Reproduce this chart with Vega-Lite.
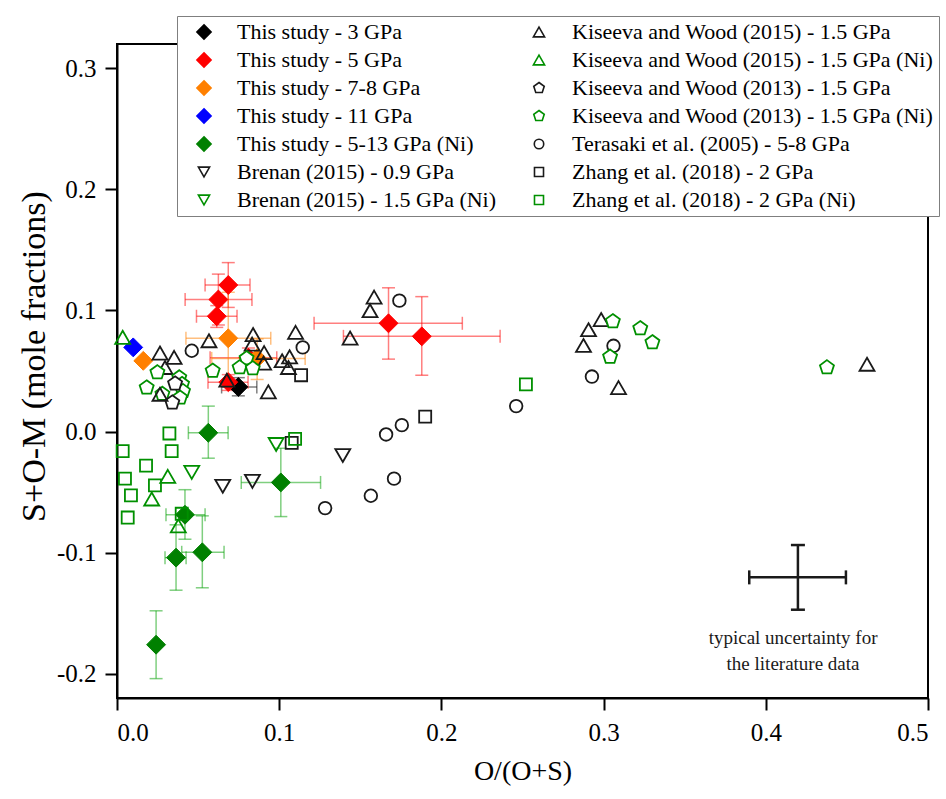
{
  "$schema": "https://vega.github.io/schema/vega-lite/v6.json",
  "width": 811,
  "height": 654,
  "autosize": {"type": "none"},
  "padding": {"left": 117, "top": 44, "right": 18, "bottom": 101},
  "background": "white",
  "resolve": {
    "axis": {"x": "independent", "y": "independent"},
    "legend": {"shape": "independent", "fill": "independent", "stroke": "independent", "color": "independent"}
  },
  "config": {
    "font": "Liberation Serif",
    "view": {"stroke": "black", "strokeWidth": 2},
    "axis": {
      "grid": false,
      "domainColor": "black",
      "domainWidth": 2,
      "tickColor": "black",
      "tickWidth": 2,
      "tickSize": 12,
      "labelFont": "Liberation Serif",
      "labelFontSize": 25,
      "labelColor": "black",
      "labelPadding": 9,
      "titleFont": "Liberation Serif",
      "titleFontSize": 28,
      "titleFontWeight": "normal",
      "titleColor": "black"
    }
  },
  "datasets": {
    "study": [
      {"series": "This study - 3 GPa", "x": 0.0748, "y": 0.0368, "xlo": 0.0645, "xhi": 0.0862, "ylo": 0.0295, "yhi": 0.0445},
      {"series": "This study - 5 GPa", "x": 0.0686, "y": 0.121, "xlo": 0.0543, "xhi": 0.082, "ylo": 0.1025, "yhi": 0.1395},
      {"series": "This study - 5 GPa", "x": 0.0625, "y": 0.109, "xlo": 0.042, "xhi": 0.0832, "ylo": 0.088, "yhi": 0.13},
      {"series": "This study - 5 GPa", "x": 0.0615, "y": 0.0952, "xlo": 0.049, "xhi": 0.074, "ylo": 0.086, "yhi": 0.104},
      {"series": "This study - 5 GPa", "x": 0.081, "y": 0.061, "xlo": 0.0574, "xhi": 0.0985, "ylo": 0.053, "yhi": 0.069},
      {"series": "This study - 5 GPa", "x": 0.0686, "y": 0.0408, "xlo": 0.0561, "xhi": 0.0808, "ylo": 0.034, "yhi": 0.047},
      {"series": "This study - 5 GPa", "x": 0.1674, "y": 0.0894, "xlo": 0.1215, "xhi": 0.2129, "ylo": 0.0598, "yhi": 0.1187},
      {"series": "This study - 5 GPa", "x": 0.1879, "y": 0.0786, "xlo": 0.1396, "xhi": 0.2362, "ylo": 0.0465, "yhi": 0.1114},
      {"series": "This study - 7-8 GPa", "x": 0.0686, "y": 0.077, "xlo": 0.0425, "xhi": 0.0948, "ylo": 0.04, "yhi": 0.115},
      {"series": "This study - 7-8 GPa", "x": 0.0864, "y": 0.0604, "xlo": 0.0584, "xhi": 0.116, "ylo": 0.043, "yhi": 0.0765},
      {"series": "This study - 7-8 GPa", "x": 0.0162, "y": 0.0584},
      {"series": "This study - 11 GPa", "x": 0.01, "y": 0.0695},
      {"series": "This study - 5-13 GPa (Ni)", "x": 0.101, "y": -0.042, "xlo": 0.0766, "xhi": 0.1255, "ylo": -0.0702, "yhi": -0.0138},
      {"series": "This study - 5-13 GPa (Ni)", "x": 0.0419, "y": -0.0687, "xlo": 0.0302, "xhi": 0.0543, "ylo": -0.0889, "yhi": -0.048},
      {"series": "This study - 5-13 GPa (Ni)", "x": 0.0364, "y": -0.1041, "xlo": 0.0296, "xhi": 0.0426, "ylo": -0.131, "yhi": -0.077},
      {"series": "This study - 5-13 GPa (Ni)", "x": 0.0526, "y": -0.0997, "xlo": 0.0399, "xhi": 0.066, "ylo": -0.129, "yhi": -0.0696},
      {"series": "This study - 5-13 GPa (Ni)", "x": 0.0241, "y": -0.176, "ylo": -0.204, "yhi": -0.148},
      {"series": "This study - 5-13 GPa (Ni)", "x": 0.0563, "y": -0.001, "xlo": 0.044, "xhi": 0.0685, "ylo": -0.022, "yhi": 0.021}
    ],
    "lit": [
      {"series": "Kiseeva and Wood (2015) - 1.5 GPa", "x": 0.0265, "y": 0.0648},
      {"series": "Kiseeva and Wood (2015) - 1.5 GPa", "x": 0.0352, "y": 0.0612},
      {"series": "Kiseeva and Wood (2015) - 1.5 GPa", "x": 0.0296, "y": 0.0529},
      {"series": "Kiseeva and Wood (2015) - 1.5 GPa", "x": 0.0567, "y": 0.075},
      {"series": "Kiseeva and Wood (2015) - 1.5 GPa", "x": 0.0839, "y": 0.0801},
      {"series": "Kiseeva and Wood (2015) - 1.5 GPa", "x": 0.0833, "y": 0.0722},
      {"series": "Kiseeva and Wood (2015) - 1.5 GPa", "x": 0.0907, "y": 0.0652},
      {"series": "Kiseeva and Wood (2015) - 1.5 GPa", "x": 0.0904, "y": 0.0565},
      {"series": "Kiseeva and Wood (2015) - 1.5 GPa", "x": 0.0933, "y": 0.0328},
      {"series": "Kiseeva and Wood (2015) - 1.5 GPa", "x": 0.1101, "y": 0.0819},
      {"series": "Kiseeva and Wood (2015) - 1.5 GPa", "x": 0.1018, "y": 0.0585},
      {"series": "Kiseeva and Wood (2015) - 1.5 GPa", "x": 0.1064, "y": 0.0617},
      {"series": "Kiseeva and Wood (2015) - 1.5 GPa", "x": 0.1057, "y": 0.0529},
      {"series": "Kiseeva and Wood (2015) - 1.5 GPa", "x": 0.0677, "y": 0.0424},
      {"series": "Kiseeva and Wood (2015) - 1.5 GPa", "x": 0.1585, "y": 0.111},
      {"series": "Kiseeva and Wood (2015) - 1.5 GPa", "x": 0.156, "y": 0.0998},
      {"series": "Kiseeva and Wood (2015) - 1.5 GPa", "x": 0.1437, "y": 0.0772},
      {"series": "Kiseeva and Wood (2015) - 1.5 GPa", "x": 0.2985, "y": 0.0925},
      {"series": "Kiseeva and Wood (2015) - 1.5 GPa", "x": 0.2907, "y": 0.0841},
      {"series": "Kiseeva and Wood (2015) - 1.5 GPa", "x": 0.2876, "y": 0.0711},
      {"series": "Kiseeva and Wood (2015) - 1.5 GPa", "x": 0.3092, "y": 0.0363},
      {"series": "Kiseeva and Wood (2015) - 1.5 GPa", "x": 0.4624, "y": 0.0556},
      {"series": "Kiseeva and Wood (2015) - 1.5 GPa (Ni)", "x": 0.0035, "y": 0.0778},
      {"series": "Kiseeva and Wood (2015) - 1.5 GPa (Ni)", "x": 0.0313, "y": -0.037},
      {"series": "Kiseeva and Wood (2015) - 1.5 GPa (Ni)", "x": 0.0214, "y": -0.0557},
      {"series": "Kiseeva and Wood (2015) - 1.5 GPa (Ni)", "x": 0.0378, "y": -0.0779},
      {"series": "Terasaki et al. (2005) - 5-8 GPa", "x": 0.0461, "y": 0.0667},
      {"series": "Terasaki et al. (2005) - 5-8 GPa", "x": 0.1145, "y": 0.0695},
      {"series": "Terasaki et al. (2005) - 5-8 GPa", "x": 0.1741, "y": 0.1081},
      {"series": "Terasaki et al. (2005) - 5-8 GPa", "x": 0.3061, "y": 0.0708},
      {"series": "Terasaki et al. (2005) - 5-8 GPa", "x": 0.2928, "y": 0.0454},
      {"series": "Terasaki et al. (2005) - 5-8 GPa", "x": 0.2461, "y": 0.021},
      {"series": "Terasaki et al. (2005) - 5-8 GPa", "x": 0.1756, "y": 0.0053},
      {"series": "Terasaki et al. (2005) - 5-8 GPa", "x": 0.1659, "y": -0.0024},
      {"series": "Terasaki et al. (2005) - 5-8 GPa", "x": 0.1708, "y": -0.0389},
      {"series": "Terasaki et al. (2005) - 5-8 GPa", "x": 0.1565, "y": -0.053},
      {"series": "Terasaki et al. (2005) - 5-8 GPa", "x": 0.1283, "y": -0.0632},
      {"series": "Zhang et al. (2018) - 2 GPa", "x": 0.1135, "y": 0.0465},
      {"series": "Zhang et al. (2018) - 2 GPa", "x": 0.19, "y": 0.0123},
      {"series": "Zhang et al. (2018) - 2 GPa", "x": 0.1077, "y": -0.0093},
      {"series": "Zhang et al. (2018) - 2 GPa (Ni)", "x": 0.0323, "y": -0.0016},
      {"series": "Zhang et al. (2018) - 2 GPa (Ni)", "x": 0.0035, "y": -0.0162},
      {"series": "Zhang et al. (2018) - 2 GPa (Ni)", "x": 0.0337, "y": -0.0162},
      {"series": "Zhang et al. (2018) - 2 GPa (Ni)", "x": 0.0179, "y": -0.0281},
      {"series": "Zhang et al. (2018) - 2 GPa (Ni)", "x": 0.1098, "y": -0.006},
      {"series": "Zhang et al. (2018) - 2 GPa (Ni)", "x": 0.0049, "y": -0.0389},
      {"series": "Zhang et al. (2018) - 2 GPa (Ni)", "x": 0.0234, "y": -0.0444},
      {"series": "Zhang et al. (2018) - 2 GPa (Ni)", "x": 0.0086, "y": -0.0527},
      {"series": "Zhang et al. (2018) - 2 GPa (Ni)", "x": 0.0066, "y": -0.071},
      {"series": "Zhang et al. (2018) - 2 GPa (Ni)", "x": 0.0399, "y": -0.0679},
      {"series": "Zhang et al. (2018) - 2 GPa (Ni)", "x": 0.2521, "y": 0.039},
      {"series": "Brenan (2015) - 0.9 GPa", "x": 0.0652, "y": -0.0452},
      {"series": "Brenan (2015) - 0.9 GPa", "x": 0.0835, "y": -0.0411},
      {"series": "Brenan (2015) - 0.9 GPa", "x": 0.1392, "y": -0.0198},
      {"series": "Brenan (2015) - 1.5 GPa (Ni)", "x": 0.0981, "y": -0.0107},
      {"series": "Brenan (2015) - 1.5 GPa (Ni)", "x": 0.0461, "y": -0.0337},
      {"series": "Kiseeva and Wood (2013) - 1.5 GPa (Ni)", "x": 0.0249, "y": 0.0488},
      {"series": "Kiseeva and Wood (2013) - 1.5 GPa (Ni)", "x": 0.0183, "y": 0.0363},
      {"series": "Kiseeva and Wood (2013) - 1.5 GPa (Ni)", "x": 0.0384, "y": 0.0446},
      {"series": "Kiseeva and Wood (2013) - 1.5 GPa (Ni)", "x": 0.0401, "y": 0.0391},
      {"series": "Kiseeva and Wood (2013) - 1.5 GPa (Ni)", "x": 0.0407, "y": 0.0333},
      {"series": "Kiseeva and Wood (2013) - 1.5 GPa (Ni)", "x": 0.0389, "y": 0.0279},
      {"series": "Kiseeva and Wood (2013) - 1.5 GPa (Ni)", "x": 0.028, "y": 0.031},
      {"series": "Kiseeva and Wood (2013) - 1.5 GPa (Ni)", "x": 0.059, "y": 0.0501},
      {"series": "Kiseeva and Wood (2013) - 1.5 GPa (Ni)", "x": 0.0799, "y": 0.0604},
      {"series": "Kiseeva and Wood (2013) - 1.5 GPa (Ni)", "x": 0.0756, "y": 0.0529},
      {"series": "Kiseeva and Wood (2013) - 1.5 GPa (Ni)", "x": 0.0837, "y": 0.0521},
      {"series": "Kiseeva and Wood (2013) - 1.5 GPa (Ni)", "x": 0.3057, "y": 0.091},
      {"series": "Kiseeva and Wood (2013) - 1.5 GPa (Ni)", "x": 0.3226, "y": 0.0852},
      {"series": "Kiseeva and Wood (2013) - 1.5 GPa (Ni)", "x": 0.3301, "y": 0.0736},
      {"series": "Kiseeva and Wood (2013) - 1.5 GPa (Ni)", "x": 0.304, "y": 0.0617},
      {"series": "Kiseeva and Wood (2013) - 1.5 GPa (Ni)", "x": 0.4377, "y": 0.0529},
      {"series": "Kiseeva and Wood (2013) - 1.5 GPa", "x": 0.0358, "y": 0.0396},
      {"series": "Kiseeva and Wood (2013) - 1.5 GPa", "x": 0.0341, "y": 0.0239},
      {"series": "Kiseeva and Wood (2015) - 1.5 GPa", "x": 0.0265, "y": 0.0308}
    ],
    "typical": [
      {"x": 0.4198, "y": -0.1204, "xlo": 0.3898, "xhi": 0.4494, "ylo": -0.1471, "yhi": -0.0937}
    ],
    "note": [
      {"x": 0.4168, "y": -0.1707, "text": "typical uncertainty for"},
      {"x": 0.4168, "y": -0.1923, "text": "the literature data"}
    ]
  },
  "layer": [
    {
      "data": {"name": "study"},
      "transform": [{"filter": "isValid(datum.xlo)"}],
      "mark": {"type": "rule", "strokeWidth": 1.5, "opacity": 0.5},
      "encoding": {
        "x": {"field": "xlo", "type": "quantitative", "scale": {"domain": [0, 0.5], "nice": false, "zero": false},
          "axis": {"title": "O/(O+S)", "values": [0, 0.1, 0.2, 0.3, 0.4, 0.5], "format": ".1f", "labelPadding": 10, "titlePadding": 12}},
        "x2": {"field": "xhi"},
        "y": {"field": "y", "type": "quantitative", "scale": {"domain": [-0.22, 0.32], "nice": false, "zero": false},
          "axis": {"title": "S+O-M (mole fractions)", "titleFontSize": 34, "titleY": 312, "values": [-0.2, -0.1, 0, 0.1, 0.2, 0.3],
            "labelExpr": "datum.value < 0 ? '-' + format(-datum.value, '.1f') : format(datum.value, '.1f')", "titlePadding": 5}},
        "color": {"field": "series", "type": "nominal", "legend": null,
          "scale": {"domain": ["This study - 3 GPa", "This study - 5 GPa", "This study - 7-8 GPa", "This study - 11 GPa", "This study - 5-13 GPa (Ni)"],
            "range": ["#000000", "#ff0000", "#ff8000", "#0000ff", "#00a000"]}}
      }
    },
    {
      "data": {"name": "study"},
      "transform": [{"filter": "isValid(datum.xlo)"}, {"fold": ["xlo", "xhi"], "as": ["end", "xe"]}],
      "mark": {"type": "tick", "orient": "vertical", "size": 13, "thickness": 1.5, "opacity": 0.5},
      "encoding": {
        "x": {"field": "xe", "type": "quantitative", "scale": {"domain": [0, 0.5], "nice": false, "zero": false}, "axis": null},
        "y": {"field": "y", "type": "quantitative", "scale": {"domain": [-0.22, 0.32], "nice": false, "zero": false}, "axis": null},
        "color": {"field": "series", "type": "nominal", "legend": null}
      }
    },
    {
      "data": {"name": "study"},
      "transform": [{"filter": "isValid(datum.ylo)"}],
      "mark": {"type": "rule", "strokeWidth": 1.5, "opacity": 0.5},
      "encoding": {
        "x": {"field": "x", "type": "quantitative", "scale": {"domain": [0, 0.5], "nice": false, "zero": false}, "axis": null},
        "y": {"field": "ylo", "type": "quantitative", "scale": {"domain": [-0.22, 0.32], "nice": false, "zero": false}, "axis": null},
        "y2": {"field": "yhi"},
        "color": {"field": "series", "type": "nominal", "legend": null}
      }
    },
    {
      "data": {"name": "study"},
      "transform": [{"filter": "isValid(datum.ylo)"}, {"fold": ["ylo", "yhi"], "as": ["end", "ye"]}],
      "mark": {"type": "tick", "orient": "horizontal", "size": 13, "thickness": 1.5, "opacity": 0.5},
      "encoding": {
        "x": {"field": "x", "type": "quantitative", "scale": {"domain": [0, 0.5], "nice": false, "zero": false}, "axis": null},
        "y": {"field": "ye", "type": "quantitative", "scale": {"domain": [-0.22, 0.32], "nice": false, "zero": false}, "axis": null},
        "color": {"field": "series", "type": "nominal", "legend": null}
      }
    },
    {
      "data": {"name": "typical"},
      "mark": {"type": "rule", "strokeWidth": 2.5, "color": "#1a1a1a"},
      "encoding": {
        "x": {"field": "xlo", "type": "quantitative", "scale": {"domain": [0, 0.5], "nice": false, "zero": false}, "axis": null},
        "x2": {"field": "xhi"},
        "y": {"field": "y", "type": "quantitative", "scale": {"domain": [-0.22, 0.32], "nice": false, "zero": false}, "axis": null}
      }
    },
    {
      "data": {"name": "typical"},
      "mark": {"type": "rule", "strokeWidth": 2.5, "color": "#1a1a1a"},
      "encoding": {
        "x": {"field": "x", "type": "quantitative", "scale": {"domain": [0, 0.5], "nice": false, "zero": false}, "axis": null},
        "y": {"field": "ylo", "type": "quantitative", "scale": {"domain": [-0.22, 0.32], "nice": false, "zero": false}, "axis": null},
        "y2": {"field": "yhi"}
      }
    },
    {
      "data": {"name": "typical"},
      "transform": [{"fold": ["xlo", "xhi"], "as": ["end", "xe"]}],
      "mark": {"type": "tick", "orient": "vertical", "size": 14, "thickness": 2.5, "color": "#1a1a1a", "opacity": 1},
      "encoding": {
        "x": {"field": "xe", "type": "quantitative", "scale": {"domain": [0, 0.5], "nice": false, "zero": false}, "axis": null},
        "y": {"field": "y", "type": "quantitative", "scale": {"domain": [-0.22, 0.32], "nice": false, "zero": false}, "axis": null}
      }
    },
    {
      "data": {"name": "typical"},
      "transform": [{"fold": ["ylo", "yhi"], "as": ["end", "ye"]}],
      "mark": {"type": "tick", "orient": "horizontal", "size": 14, "thickness": 2.5, "color": "#1a1a1a", "opacity": 1},
      "encoding": {
        "x": {"field": "x", "type": "quantitative", "scale": {"domain": [0, 0.5], "nice": false, "zero": false}, "axis": null},
        "y": {"field": "ye", "type": "quantitative", "scale": {"domain": [-0.22, 0.32], "nice": false, "zero": false}, "axis": null}
      }
    },
    {
      "data": {"name": "note"},
      "mark": {"type": "text", "font": "Liberation Serif", "fontSize": 19, "color": "#1a1a1a", "align": "center", "baseline": "middle"},
      "encoding": {
        "x": {"field": "x", "type": "quantitative", "scale": {"domain": [0, 0.5], "nice": false, "zero": false}, "axis": null},
        "y": {"field": "y", "type": "quantitative", "scale": {"domain": [-0.22, 0.32], "nice": false, "zero": false}, "axis": null},
        "text": {"field": "text", "type": "nominal"}
      }
    },
    {
      "data": {"name": "study"},
      "mark": {"type": "point", "filled": true, "size": 196, "strokeWidth": 1, "opacity": 1},
      "encoding": {
        "x": {"field": "x", "type": "quantitative", "scale": {"domain": [0, 0.5], "nice": false, "zero": false}, "axis": null},
        "y": {"field": "y", "type": "quantitative", "scale": {"domain": [-0.22, 0.32], "nice": false, "zero": false}, "axis": null},
        "shape": {"field": "series", "type": "nominal", "legend": null},
        "fill": {"field": "series", "type": "nominal", "legend": null},
        "stroke": {"field": "series", "type": "nominal", "legend": null}
      }
    },
    {
      "data": {"name": "lit"},
      "mark": {"type": "point", "size": 196, "strokeWidth": 1.8, "opacity": 1},
      "encoding": {
        "x": {"field": "x", "type": "quantitative", "scale": {"domain": [0, 0.5], "nice": false, "zero": false}, "axis": null},
        "y": {"field": "y", "type": "quantitative", "scale": {"domain": [-0.22, 0.32], "nice": false, "zero": false}, "axis": null},
        "shape": {
          "field": "series", "type": "nominal",
          "scale": {
            "domain": ["This study - 3 GPa", "This study - 5 GPa", "This study - 7-8 GPa", "This study - 11 GPa", "This study - 5-13 GPa (Ni)", "Brenan (2015) - 0.9 GPa", "Brenan (2015) - 1.5 GPa (Ni)", "Kiseeva and Wood (2015) - 1.5 GPa", "Kiseeva and Wood (2015) - 1.5 GPa (Ni)", "Kiseeva and Wood (2013) - 1.5 GPa", "Kiseeva and Wood (2013) - 1.5 GPa (Ni)", "Terasaki et al. (2005) - 5-8 GPa", "Zhang et al. (2018) - 2 GPa", "Zhang et al. (2018) - 2 GPa (Ni)"],
            "range": [
              "M0,-1.35L1.35,0L0,1.35L-1.35,0Z",
              "M0,-1.35L1.35,0L0,1.35L-1.35,0Z",
              "M0,-1.35L1.35,0L0,1.35L-1.35,0Z",
              "M0,-1.35L1.35,0L0,1.35L-1.35,0Z",
              "M0,-1.35L1.35,0L0,1.35L-1.35,0Z",
              "M0,0.93L1.07,-0.93L-1.07,-0.93Z",
              "M0,0.93L1.07,-0.93L-1.07,-0.93Z",
              "M0,-0.93L1.07,0.93L-1.07,0.93Z",
              "M0,-0.93L1.07,0.93L-1.07,0.93Z",
              "M0,-1.05L1,-0.32L0.62,0.85L-0.62,0.85L-1,-0.32Z",
              "M0,-1.05L1,-0.32L0.62,0.85L-0.62,0.85L-1,-0.32Z",
              "M0.9,0A0.9,0.9,0,1,1,-0.9,0A0.9,0.9,0,1,1,0.9,0Z",
              "M-0.86,-0.86L0.86,-0.86L0.86,0.86L-0.86,0.86Z",
              "M-0.86,-0.86L0.86,-0.86L0.86,0.86L-0.86,0.86Z"
            ]
          },
          "legend": {"title": null, "orient": "none", "legendX": 60, "legendY": -28, "columns": 2, "columnPadding": 20, "rowPadding": 6, "padding": 5,
            "labelFont": "Liberation Serif", "labelFontSize": 22, "labelColor": "black", "labelOffset": 22, "labelLimit": 500,
            "symbolSize": 110, "symbolStrokeWidth": 1.6, "symbolOffset": 11, "strokeColor": "#7f7f7f", "fillColor": "white"}
        },
        "fill": {
          "field": "series", "type": "nominal",
          "scale": {
            "domain": ["This study - 3 GPa", "This study - 5 GPa", "This study - 7-8 GPa", "This study - 11 GPa", "This study - 5-13 GPa (Ni)", "Brenan (2015) - 0.9 GPa", "Brenan (2015) - 1.5 GPa (Ni)", "Kiseeva and Wood (2015) - 1.5 GPa", "Kiseeva and Wood (2015) - 1.5 GPa (Ni)", "Kiseeva and Wood (2013) - 1.5 GPa", "Kiseeva and Wood (2013) - 1.5 GPa (Ni)", "Terasaki et al. (2005) - 5-8 GPa", "Zhang et al. (2018) - 2 GPa", "Zhang et al. (2018) - 2 GPa (Ni)"],
            "range": ["#000000", "#ff0000", "#ff8000", "#0000ff", "#008000", "transparent", "transparent", "transparent", "transparent", "#ffffff", "#ffffff", "transparent", "transparent", "transparent"]
          },
          "legend": {"title": null, "orient": "none", "legendX": 60, "legendY": -28, "columns": 2, "columnPadding": 20, "rowPadding": 6, "padding": 5,
            "labelFont": "Liberation Serif", "labelFontSize": 22, "labelColor": "black", "labelOffset": 22, "labelLimit": 500,
            "symbolSize": 110, "symbolStrokeWidth": 1.6, "symbolOffset": 11, "strokeColor": "#7f7f7f", "fillColor": "white"}
        },
        "stroke": {
          "field": "series", "type": "nominal",
          "scale": {
            "domain": ["This study - 3 GPa", "This study - 5 GPa", "This study - 7-8 GPa", "This study - 11 GPa", "This study - 5-13 GPa (Ni)", "Brenan (2015) - 0.9 GPa", "Brenan (2015) - 1.5 GPa (Ni)", "Kiseeva and Wood (2015) - 1.5 GPa", "Kiseeva and Wood (2015) - 1.5 GPa (Ni)", "Kiseeva and Wood (2013) - 1.5 GPa", "Kiseeva and Wood (2013) - 1.5 GPa (Ni)", "Terasaki et al. (2005) - 5-8 GPa", "Zhang et al. (2018) - 2 GPa", "Zhang et al. (2018) - 2 GPa (Ni)"],
            "range": ["#000000", "#ff0000", "#ff8000", "#0000ff", "#008000", "#1a1a1a", "#009000", "#1a1a1a", "#009000", "#1a1a1a", "#009000", "#1a1a1a", "#1a1a1a", "#009000"]
          },
          "legend": {"title": null, "orient": "none", "legendX": 60, "legendY": -28, "columns": 2, "columnPadding": 20, "rowPadding": 6, "padding": 5,
            "labelFont": "Liberation Serif", "labelFontSize": 22, "labelColor": "black", "labelOffset": 22, "labelLimit": 500,
            "symbolSize": 110, "symbolStrokeWidth": 1.6, "symbolOffset": 11, "strokeColor": "#7f7f7f", "fillColor": "white"}
        }
      }
    }
  ]
}
